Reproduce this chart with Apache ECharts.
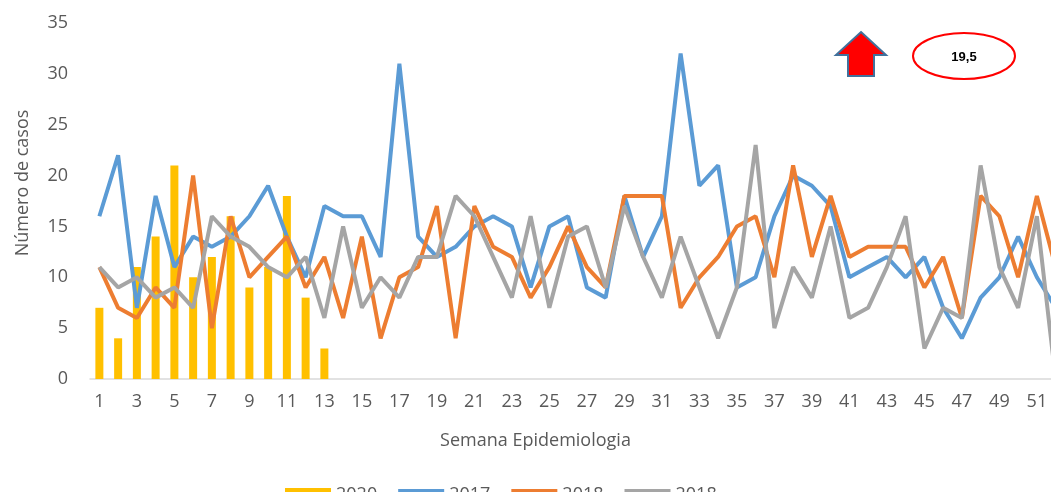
<!DOCTYPE html>
<html>
<head>
<meta charset="utf-8">
<script src="https://cdn.jsdelivr.net/npm/echarts@6/dist/echarts.min.js"></script>
<style>
  html, body { margin: 0; padding: 0; background: #fff; }
  #main { width: 1051px; height: 492px; }
</style>
</head>
<body>
<div id="main"></div>
<script>
var weeks = [];
for (var i = 1; i <= 52; i++) weeks.push(String(i));

var cases2020 = [7, 4, 11, 14, 21, 10, 12, 16, 9, 11, 18, 8, 3];
var cases2017 = [16, 22, 7, 18, 11, 14, 13, 14, 16, 19, 14, 10, 17, 16, 16, 12, 31, 14, 12, 13,
    15, 16, 15, 9, 15, 16, 9, 8, 18, 12, 16, 32, 19, 21, 9, 10, 16, 20, 19, 17,
    10, 11, 12, 10, 12, 7, 4, 8, 10, 14, 10, 7];
var cases2018 = [11, 7, 6, 9, 7, 20, 5, 16, 10, 12, 14, 9, 12, 6, 14, 4, 10, 11, 17, 4,
    17, 13, 12, 8, 11, 15, 11, 9, 18, 18, 18, 7, 10, 12, 15, 16, 10, 21, 12, 18,
    12, 13, 13, 13, 9, 12, 6, 18, 16, 10, 18, 11];
var cases2018b = [11, 9, 10, 8, 9, 7, 16, 14, 13, 11, 10, 12, 6, 15, 7, 10, 8, 12, 12, 18,
    16, 12, 8, 16, 7, 14, 15, 9, 17, 12, 8, 14, 9, 4, 9, 23, 5, 11, 8, 15,
    6, 7, 11, 16, 3, 7, 6, 21, 11, 7, 16, 0];

var chartDom = document.getElementById('main');
var myChart = echarts.init(chartDom);
var option;

var font = 'Open Sans';
// thin line sitting in the upper part of the legend icon box
var lineIcon = 'path://M0,0 L46,0 L46,4 L0,4 Z M0,12 L0.01,12 L0.01,12.01 Z';

option = {
    animation: false,
    textStyle: { fontFamily: font },
    legend: {
        bottom: -17,
        left: 280,
        itemWidth: 46,
        itemHeight: 14,
        itemGap: 21,
        textStyle: { fontSize: 18, color: '#595959', fontFamily: font },
        data: [
            { name: '2020', icon: 'rect' },
            { name: '2017', icon: lineIcon },
            { name: '2018', icon: lineIcon },
            { name: '2018 ', icon: lineIcon }
        ]
    },
    grid: {
        left: 90,
        right: -14,
        top: 23,
        bottom: 113,
        outerBoundsMode: 'none'
    },
    xAxis: {
        type: 'category',
        data: weeks,
        boundaryGap: true,
        name: 'Semana Epidemiologia',
        nameLocation: 'middle',
        nameGap: 53,
        nameTextStyle: { fontSize: 18, color: '#595959', padding: [0, 84, 0, 0] },
        axisLine: { lineStyle: { color: '#D9D9D9', width: 1.5 } },
        axisTick: { show: false },
        axisLabel: { interval: 1, fontSize: 18, color: '#595959', margin: 14 }
    },
    yAxis: {
        type: 'value',
        min: 0,
        max: 35,
        interval: 5,
        name: 'Número de casos',
        nameLocation: 'middle',
        nameGap: 58,
        nameTextStyle: { fontSize: 18, color: '#595959', padding: [0, 0, 0, 36] },
        splitLine: { show: false },
        axisLabel: { fontSize: 18, color: '#595959', margin: 22 }
    },
    series: [
        {
            name: '2020',
            type: 'bar',
            barWidth: 8,
            itemStyle: { color: '#FFC000' },
            data: cases2020
        },
        {
            name: '2017',
            type: 'line',
            symbol: 'none',
            lineStyle: { width: 4, color: '#5B9BD5' },
            itemStyle: { color: '#5B9BD5' },
            data: cases2017
        },
        {
            name: '2018',
            type: 'line',
            symbol: 'none',
            lineStyle: { width: 4, color: '#ED7D31' },
            itemStyle: { color: '#ED7D31' },
            data: cases2018
        },
        {
            name: '2018 ',
            type: 'line',
            symbol: 'none',
            lineStyle: { width: 4, color: '#A5A5A5' },
            itemStyle: { color: '#A5A5A5' },
            data: cases2018b
        }
    ],
    graphic: [
        {
            type: 'polygon',
            shape: {
                points: [[861, 32], [886, 55], [874, 55], [874, 76], [848, 76], [848, 55], [836, 55]]
            },
            style: { fill: '#FF0000', stroke: '#41719C', lineWidth: 2 }
        },
        {
            type: 'ellipse',
            shape: { cx: 964, cy: 56, rx: 51, ry: 23 },
            style: { fill: '#fff', stroke: '#FF0000', lineWidth: 2 }
        },
        {
            type: 'text',
            x: 964,
            y: 57,
            style: {
                text: '19,5',
                fontFamily: 'Liberation Sans',
                fontWeight: 'bold',
                fontSize: 13,
                fill: '#000',
                align: 'center',
                verticalAlign: 'middle'
            }
        }
    ]
};

option && myChart.setOption(option);
</script>
</body>
</html>
